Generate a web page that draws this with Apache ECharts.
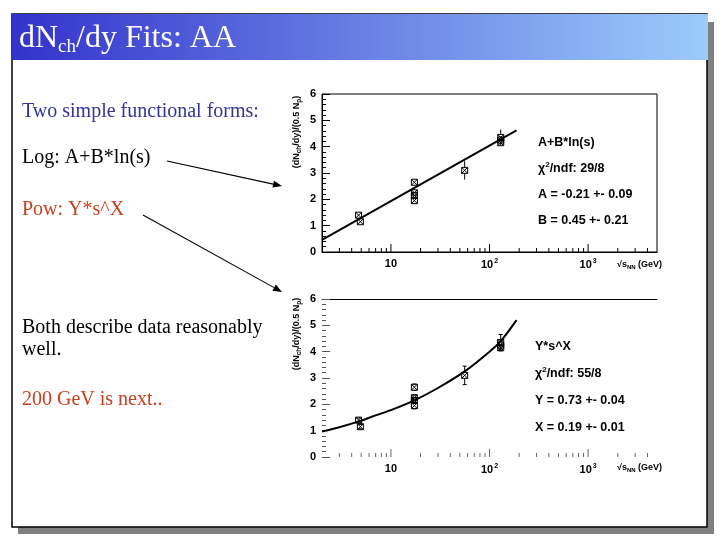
<!DOCTYPE html>
<html><head><meta charset="utf-8">
<script src="https://cdn.jsdelivr.net/npm/echarts@6/dist/echarts.min.js"></script>
<style>html,body{margin:0;padding:0;background:#fff}#c{width:720px;height:540px}</style>
</head><body><div id="c"></div>
<script>
// ---- data ----
const energies = [4.7, 4.9, 17.3, 17.3, 17.3, 17.3, 56, 130, 130, 130];
const values   = [1.40, 1.15, 2.65, 2.25, 2.15, 1.95, 3.10, 4.35, 4.25, 4.15];
const errors   = [0.08, 0.08, 0.12, 0.10, 0.10, 0.12, 0.35, 0.30, 0.15, 0.12];
const logFitX = [2, 188];
const logFitY = [0.46, 4.62];
const powFitX = [2, 3, 5, 7, 10, 17.3, 30, 56, 100, 130, 188];
const powFitY = [0.97, 1.13, 1.38, 1.58, 1.78, 2.15, 2.62, 3.25, 4.0, 4.4, 5.2];
const xMajorTicks = [10, 100, 1000];
const xTickLabels = ['10', '10{sup|2}', '10{sup|3}'];
const xMinorTicks = [3,4,5,6,7,8,9,20,30,40,50,60,70,80,90,200,300,400,500,600,700,800,900,2000,3000,4000];
const logFitText = ['{b|A+B*ln(s)}', '{b|χ}{sup|2}{b|/ndf: 29/8}', '{b|A = -0.21 +- 0.09}', '{b|B = 0.45 +- 0.21}'];
const powFitText = ['{b|Y*s^X}', '{b|χ}{sup|2}{b|/ndf: 55/8}', '{b|Y = 0.73 +- 0.04}', '{b|X = 0.19 +- 0.01}'];

const chart = echarts.init(document.getElementById('c'), null, {renderer: 'canvas'});
const pts = energies.map((e, i) => [e, values[i], errors[i]]);
const ticks = xMinorTicks.map(v => [v, 0, 4]).concat(xMajorTicks.map(v => [v, 0, 8]));

function errRender(capW, col) {
  return function (params, api) {
    const x = api.value(0), y = api.value(1), e = api.value(2);
    const p = api.coord([x, y]), t = api.coord([x, y + e]), b = api.coord([x, y - e]);
    const h = 3;
    const st = {stroke: col, lineWidth: 1, fill: 'none'};
    const ch = [
      {type: 'rect', shape: {x: p[0] - h, y: p[1] - h, width: 2 * h, height: 2 * h}, style: st},
      {type: 'line', shape: {x1: p[0] - h, y1: p[1] - h, x2: p[0] + h, y2: p[1] + h}, style: st},
      {type: 'line', shape: {x1: p[0] + h, y1: p[1] - h, x2: p[0] - h, y2: p[1] + h}, style: st}
    ];
    if (t[1] < p[1] - h) ch.push({type: 'line', shape: {x1: p[0], y1: t[1], x2: p[0], y2: p[1] - h}, style: st});
    if (b[1] > p[1] + h) ch.push({type: 'line', shape: {x1: p[0], y1: p[1] + h, x2: p[0], y2: b[1]}, style: st});
    if (capW > 0) {
      ch.push({type: 'line', shape: {x1: p[0] - capW, y1: t[1], x2: p[0] + capW, y2: t[1]}, style: st});
      ch.push({type: 'line', shape: {x1: p[0] - capW, y1: b[1], x2: p[0] + capW, y2: b[1]}, style: st});
    }
    return {type: 'group', children: ch};
  };
}
function tickRender(col) {
  return function (params, api) {
    const p = api.coord([api.value(0), 0]);
    const len = api.value(2);
    return {type: 'line', shape: {x1: p[0], y1: p[1], x2: p[0], y2: p[1] - len}, style: {stroke: col, lineWidth: 1}};
  };
}
function xLabel(v) {
  const i = xMajorTicks.findIndex(t => Math.abs(t - v) / t < 1e-6);
  return i < 0 ? '' : xTickLabels[i];
}
const lblFont = {fontFamily: 'Liberation Sans', fontWeight: 'bold', fontSize: 11, color: '#000'};
function xAxisOpt(gi, showLine) {
  return {
    type: 'log', gridIndex: gi, min: 2, max: 5000, logBase: 10,
    axisLine: {show: showLine, lineStyle: {color: '#000', width: 1}},
    axisTick: {show: false}, minorTick: {show: false}, splitLine: {show: false},
    axisLabel: Object.assign({margin: 6, formatter: xLabel,
      rich: {sup: {fontFamily: 'Liberation Sans', fontWeight: 'bold', fontSize: 7, verticalAlign: 'top', padding: [0, 0, 7, 1]}}}, lblFont)
  };
}
function yAxisOpt(gi, showLine, col) {
  return {
    type: 'value', gridIndex: gi, min: 0, max: 6, interval: 1,
    axisLine: {show: showLine, lineStyle: {color: '#000', width: 1}},
    axisTick: {show: true, inside: true, length: 8, lineStyle: {color: col}},
    minorTick: {show: true, splitNumber: 5, length: 4, lineStyle: {color: col}},
    splitLine: {show: false},
    axisLabel: Object.assign({margin: 6}, lblFont)
  };
}
function fitTextEl(lines, x, y0, dy) {
  return lines.map((t, i) => ({
    type: 'text', x: x, y: y0 + i * dy, z: 10,
    style: {text: t, textVerticalAlign: 'middle', rich: {
      b: {fontFamily: 'Liberation Sans', fontWeight: 'bold', fontSize: 12.5, fill: '#000'},
      sup: {fontFamily: 'Liberation Sans', fontWeight: 'bold', fontSize: 8, fill: '#000', verticalAlign: 'top', padding: [0, 0, 8, 0]}
    }}
  }));
}
function arrow(x1, y1, x2, y2) {
  const a = Math.atan2(y2 - y1, x2 - x1), L = 9, W = 3.5;
  const bx = x2 - L * Math.cos(a), by = y2 - L * Math.sin(a);
  return [
    {type: 'line', z: 10, shape: {x1: x1, y1: y1, x2: bx, y2: by}, style: {stroke: '#000', lineWidth: 1.1}},
    {type: 'polygon', z: 10, shape: {points: [[x2, y2], [bx - W * Math.sin(a), by + W * Math.cos(a)], [bx + W * Math.sin(a), by - W * Math.cos(a)]]}, style: {fill: '#000'}}
  ];
}
const serif = 'Liberation Serif';
function slideText(t, y, col) {
  return {type: 'text', x: 22, y: y, z: 10, style: {text: t, fontFamily: serif, fontSize: 20, fill: col, textVerticalAlign: 'middle'}};
}
const yTitleRich = {
  b: {fontFamily: 'Liberation Sans', fontWeight: 'bold', fontSize: 9, fill: '#000'},
  sub: {fontFamily: 'Liberation Sans', fontWeight: 'bold', fontSize: 6.5, fill: '#000', verticalAlign: 'bottom', padding: [5, 0, 0, 0]}
};
const yTitleText = '{b|(dN}{sub|ch}{b|/dy)/(0.5 N}{sub|p}{b|)}';
const xTitleRich = {
  b: {fontFamily: 'Liberation Sans', fontWeight: 'bold', fontSize: 9, fill: '#000'},
  sub: {fontFamily: 'Liberation Sans', fontWeight: 'bold', fontSize: 6, fill: '#000', verticalAlign: 'bottom', padding: [4, 0, 0, 0]}
};
const xTitleText = '{b|√s}{sub|NN}{b| (GeV)}';

const graphics = [
  {type: 'rect', z: -20, shape: {x: 18, y: 22, width: 696, height: 512}, style: {fill: '#808080'}},
  {type: 'rect', z: -19, shape: {x: 12, y: 14, width: 695, height: 513}, style: {fill: '#fff', stroke: '#000', lineWidth: 1.5}},
  {type: 'rect', z: -18, shape: {x: 12, y: 14, width: 696, height: 46}, style: {fill: {type: 'linear', x: 0, y: 0, x2: 1, y2: 0,
    colorStops: [{offset: 0, color: '#3333cc'}, {offset: 1, color: '#9ccbfb'}]}}},
  {type: 'text', x: 19, y: 39, z: 10, style: {text: '{a|dN}{s|ch}{a|/dy Fits: AA}', textVerticalAlign: 'middle', rich: {
    a: {fontFamily: serif, fontSize: 32, fill: '#fff', lineHeight: 36},
    s: {fontFamily: serif, fontSize: 19, fill: '#fff', verticalAlign: 'bottom', lineHeight: 19, padding: [11, 0, 0, 0]}
  }}},
  slideText('Two simple functional forms:', 112, '#333399'),
  slideText('Log: A+B*ln(s)', 158, '#000'),
  slideText('Pow: Y*s^X', 210, '#c8401e'),
  slideText('Both describe data reasonably', 328, '#000'),
  slideText('well.', 350, '#000'),
  slideText('200 GeV is next..', 400, '#c8401e'),
  {type: 'text', x: 297, y: 132, rotation: Math.PI / 2, z: 10, style: {text: yTitleText, rich: yTitleRich, textAlign: 'center', textVerticalAlign: 'middle'}},
  {type: 'text', x: 297, y: 334, rotation: Math.PI / 2, z: 10, style: {text: yTitleText, rich: yTitleRich, textAlign: 'center', textVerticalAlign: 'middle'}},
  {type: 'text', x: 617, y: 265, z: 10, style: {text: xTitleText, rich: xTitleRich, textVerticalAlign: 'middle'}},
  {type: 'text', x: 617, y: 468, z: 10, style: {text: xTitleText, rich: xTitleRich, textVerticalAlign: 'middle'}}
].concat(arrow(167, 161, 282, 186), arrow(143, 215, 282, 292),
  fitTextEl(logFitText, 538, 143, 26), fitTextEl(powFitText, 535, 347, 27));

chart.setOption({
  animation: false,
  grid: [
    {left: 322, top: 94, width: 335, height: 158, show: true, borderColor: '#000', borderWidth: 1, backgroundColor: 'transparent', outerBoundsMode: 'none', containLabel: false},
    {left: 322, top: 299, width: 335, height: 158, show: false, outerBoundsMode: 'none', containLabel: false}
  ],
  xAxis: [xAxisOpt(0, true), xAxisOpt(1, false),
    {type: 'log', gridIndex: 1, min: 2, max: 5000, position: 'top', axisLine: {show: true, lineStyle: {color: '#000'}},
     axisTick: {show: false}, axisLabel: {show: false}, splitLine: {show: false}}],
  yAxis: [yAxisOpt(0, true, '#000'), yAxisOpt(1, false, '#555')],
  graphic: {elements: graphics},
  series: [
    {type: 'custom', xAxisIndex: 0, yAxisIndex: 0, data: ticks, renderItem: tickRender('#000'), silent: true},
    {type: 'custom', xAxisIndex: 1, yAxisIndex: 1, data: ticks, renderItem: tickRender('#666'), silent: true},
    {type: 'line', xAxisIndex: 0, yAxisIndex: 0, data: logFitX.map((x, i) => [x, logFitY[i]]), showSymbol: false,
     lineStyle: {color: '#000', width: 2}, z: 3},
    {type: 'line', xAxisIndex: 1, yAxisIndex: 1, data: powFitX.map((x, i) => [x, powFitY[i]]), showSymbol: false, smooth: 0.3,
     lineStyle: {color: '#000', width: 2}, z: 3},
    {type: 'custom', xAxisIndex: 0, yAxisIndex: 0, data: pts, renderItem: errRender(0, '#000'), z: 4},
    {type: 'custom', xAxisIndex: 1, yAxisIndex: 1, data: pts, renderItem: errRender(2, '#000'), z: 4}
  ]
});
</script></body></html>
